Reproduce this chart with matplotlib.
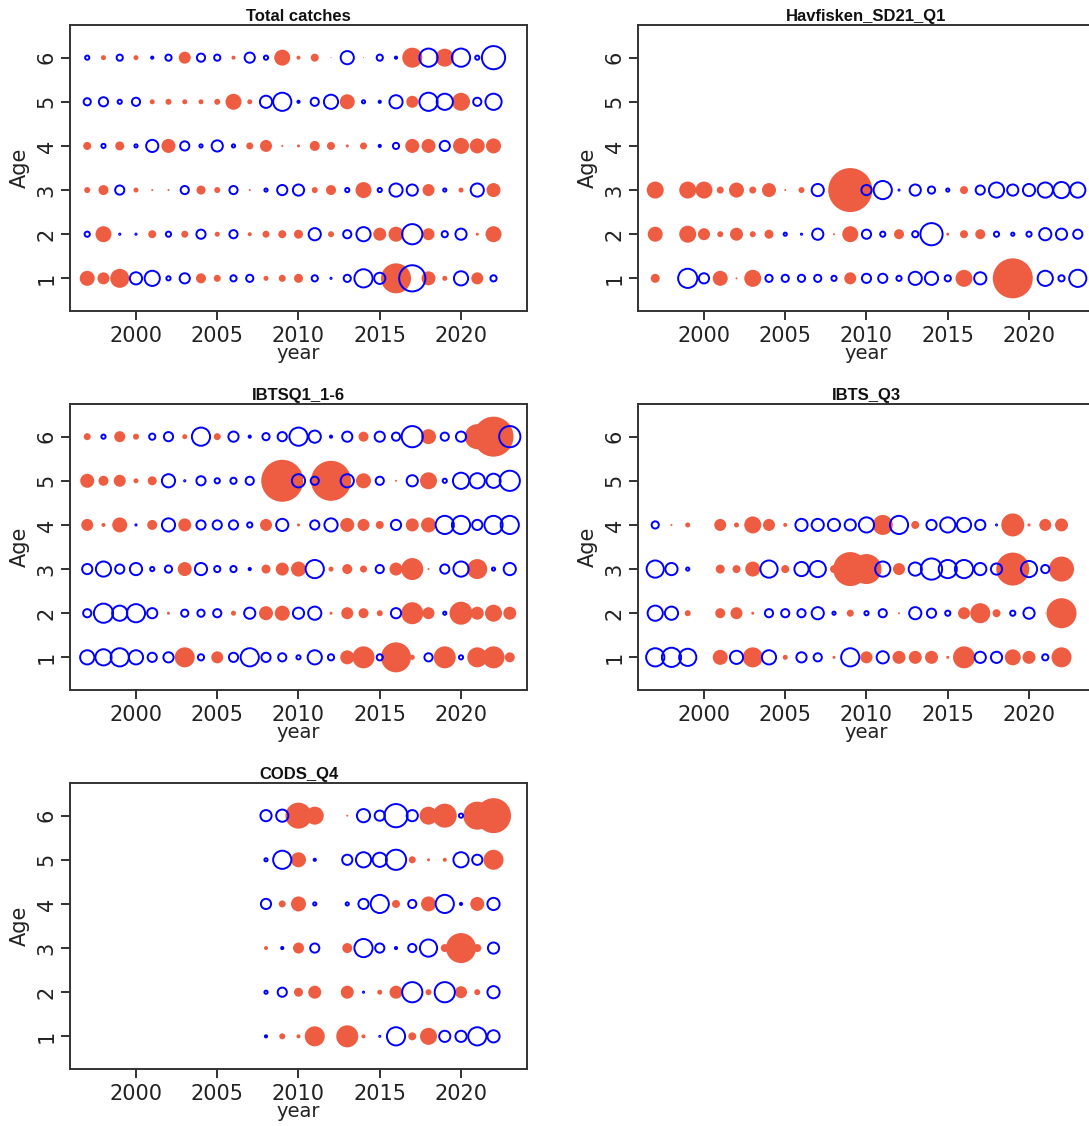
import numpy as np
import matplotlib
matplotlib.use("Agg")
import matplotlib.pyplot as plt
from matplotlib.transforms import offset_copy

nan = np.nan

# ---------------- data (signed residuals; + = red filled, - = blue open) -------------
ages = [1, 2, 3, 4, 5, 6]

years_total = list(range(1997, 2023))
total_a1 = [1.5, 1.2, 1.9, -1.4, -1.7, -0.6, -1.2, 1.0, 0.7, -0.8, -0.9, 0.5, 0.7, 0.9, -0.8, -0.3, -0.9, -2.0, -1.3, 3.0, -2.8, 1.4, 0.5, -1.6, 1.2, -0.8]
total_a2 = [-0.7, 1.6, -0.3, -0.3, 0.8, -0.7, 0.7, -1.1, 0.5, -1.0, 0.4, 0.7, 0.8, 0.9, -1.4, 0.6, -1.0, -1.6, 1.3, 1.5, -2.2, 1.2, -0.8, -1.3, 0.3, 1.6]
total_a3 = [0.6, 1.0, -1.1, 0.5, 0.2, 0.2, -1.0, 0.9, 0.6, -1.0, 0.2, -0.5, -1.2, -1.3, 0.6, 1.0, -0.6, 1.6, -0.6, -1.5, -1.3, 1.2, -0.5, 0.5, -1.5, 1.4]
total_a4 = [0.8, -0.6, 0.9, -0.5, -1.4, 1.4, -1.1, -0.5, -1.3, -0.5, 0.7, 1.2, 0.2, 0.3, 1.0, 0.8, 0.3, 0.7, -0.4, -0.8, 1.4, 1.4, -1.2, 1.6, 1.5, 1.5]
total_a5 = [-0.9, -1.1, -0.6, -1.0, 0.5, 0.6, 0.5, 0.5, 0.6, 1.6, 0.5, -1.4, -2.0, -0.4, -1.0, -1.6, 1.5, -0.5, -0.4, -1.5, 1.2, -2.0, -1.8, 1.8, -1.0, -1.8]
total_a6 = [-0.6, 0.5, -0.8, 0.5, -0.4, -0.8, 1.2, -1.0, -0.8, 0.4, -1.2, -0.6, 1.6, 0.4, 0.8, 0.1, -1.5, 0.1, -0.8, -0.4, 2.0, -2.0, 1.8, -2.0, -0.6, -2.5]

years_hav = list(range(1997, 2024))
hav_a1 = [0.9, nan, -2.1, -1.2, 1.5, 0.2, 1.7, -0.9, -0.9, -0.9, -0.9, -0.7, 1.2, -1.1, -1.1, -0.7, -1.5, -1.5, -0.8, 1.7, -1.4, nan, 4.0, nan, -1.7, -0.8, -1.9]
hav_a2 = [1.5, nan, 1.7, 1.2, 0.6, 1.3, 0.6, 0.9, -0.5, -0.3, -1.3, 0.2, 1.6, -1.1, -0.7, 1.0, -0.8, -2.4, 0.3, 0.8, 1.0, -0.7, -0.5, -0.7, -1.4, -1.3, -1.1]
hav_a3 = [1.7, nan, 1.7, 1.7, 0.7, 1.5, 0.7, 1.4, 0.2, 0.6, -1.4, 0.1, 4.4, -1.2, -2.0, -0.2, -1.3, -0.9, -0.5, 0.8, -1.1, -1.7, -1.3, -1.4, -1.7, -1.8, -1.7]

years_ibq1 = list(range(1997, 2024))
ibq1_a1 = [-1.6, -1.8, -2.0, -1.6, -1.1, -1.2, 2.0, -0.8, 1.2, -1.1, -2.0, -1.1, -1.0, -0.6, -1.6, -0.8, 1.4, 2.2, -0.8, 3.0, 0.5, -1.0, 2.2, -0.6, 2.0, 2.2, 1.0]
ibq1_a2 = [-1.0, -2.1, -1.7, -2.0, -1.2, 0.3, -0.9, -0.9, -1.0, 0.5, -1.3, 1.4, 1.5, -1.3, -1.5, 0.3, 1.2, 1.0, 0.6, -1.2, 2.2, 1.2, -0.5, 2.3, 1.3, 1.7, 1.3]
ibq1_a3 = [-1.2, -1.7, -1.1, -1.4, -0.6, -0.9, 1.4, -1.4, -0.8, -0.8, -0.4, 0.9, 1.3, 1.5, -2.0, 0.5, 1.0, 0.7, -1.0, 1.3, 2.2, 0.2, -1.1, -1.7, 2.0, -0.5, -1.4]
ibq1_a4 = [1.2, 0.4, 1.5, -0.3, 1.0, -1.5, 1.3, -1.1, -1.1, -1.1, -0.7, 1.2, -1.4, 0.3, -1.1, -1.5, 1.4, 1.2, 0.8, -1.2, 1.3, 1.5, -2.0, -2.0, -1.2, -2.0, -2.0]
ibq1_a5 = [1.4, 1.0, 1.2, 0.5, 0.9, -1.5, -0.3, -1.1, -0.7, -0.8, -1.0, 0.5, 4.2, -1.5, -1.0, 4.0, -1.5, 1.5, -1.0, 0.2, -1.3, 1.7, -0.6, -1.8, -1.7, -1.6, -2.2]
ibq1_a6 = [0.7, -0.6, 1.1, 0.6, -0.8, -1.1, 0.5, -2.0, 0.7, -1.2, -0.4, -0.9, -1.1, -2.0, -1.4, -0.4, -1.2, 1.0, -1.2, -1.0, -2.3, 1.5, -1.0, -1.2, 2.5, 4.0, -2.3]

years_ibq3 = list(range(1997, 2023))
ibq3_a1 = [-2.0, -2.1, -1.9, nan, 1.5, -1.5, 2.0, -1.6, 0.5, -1.2, -1.0, 0.3, -2.0, 1.2, -1.4, 1.3, 1.3, 1.3, 0.3, 2.2, -1.3, -1.3, 1.6, 1.3, -0.8, 2.0]
ibq3_a2 = [-1.7, -1.5, 0.6, nan, 1.0, 1.2, 0.3, -1.0, -1.0, -1.0, -1.4, -0.5, 0.7, -0.6, -1.0, 0.2, -1.4, -1.1, -0.7, 1.2, 2.0, 0.8, -0.7, -1.3, 0.1, 3.0]
ibq3_a3 = [-1.9, -1.4, -0.5, nan, 0.9, 0.8, 1.5, -1.9, 0.8, -1.6, -1.8, 0.8, 3.4, 3.0, -1.7, 1.2, -1.5, -2.3, -2.0, -2.0, -1.4, -1.3, 3.3, -1.8, -1.0, 2.5]
ibq3_a4 = [-0.9, 0.2, 0.5, nan, 1.2, 0.5, 1.7, 1.2, 0.4, -1.4, -1.4, -1.4, -1.3, -1.7, 2.0, -2.0, 0.8, -1.2, -1.7, -1.6, -1.2, -0.2, 2.3, 0.3, 1.2, 1.3]

years_cods = list(range(2008, 2023))
cods_a1 = [-0.4, 0.6, 0.4, 2.0, nan, 2.2, 0.4, -0.2, -2.0, 0.8, 1.7, -1.3, -1.3, -2.0, -1.4]
cods_a2 = [-0.5, -1.1, 0.9, 1.3, nan, 1.3, -0.3, 0.5, 1.3, -2.2, 0.6, -2.2, 1.2, 0.6, -1.4]
cods_a3 = [0.4, -0.4, 1.1, -1.1, nan, 1.0, -2.0, -1.1, -0.4, -1.0, -1.9, 0.8, 3.0, 0.8, -1.3]
cods_a4 = [-1.2, 0.7, 1.5, -0.5, nan, -0.5, -1.2, -2.0, 0.8, -1.0, 1.5, -2.0, -0.4, 1.4, -1.4]
cods_a5 = [-0.5, -2.0, 1.5, -0.4, nan, -1.2, -1.7, -1.6, -2.2, 0.7, 0.3, 0.4, -1.7, -1.2, 2.0]
cods_a6 = [-1.3, -1.4, 2.6, 1.8, nan, 0.2, -1.5, -1.2, -2.5, -1.3, 1.8, 2.4, -0.6, 2.8, 3.5]

titles = ["Total catches", "Havfisken_SD21_Q1", "IBTSQ1_1-6", "IBTS_Q3", "CODS_Q4"]
xticks = [2000, 2005, 2010, 2015, 2020]

# ---------------- styling ----------------
RED = "#EE5C42"
BLUE = "#0000FF"
W, H = 1089, 1126
PX = 72.0 / 100.0          # points per pixel
SCALE = 10.0 * PX          # marker diameter (pt) per residual unit
plt.rcParams["font.family"] = ["DejaVu Sans"]

fig = plt.figure(figsize=(W / 100, H / 100), dpi=100)


def add_ax(left, top, width=457, height=286):
    return fig.add_axes([left / W, 1 - (top + height) / H, width / W, height / H])


def bubble(ax, years, rows, row_ages, title):
    xs, ys, vs = [], [], []
    for age, row in zip(row_ages, rows):
        for yr, v in zip(years, row):
            if not np.isnan(v):
                xs.append(yr); ys.append(age); vs.append(v)
    xs = np.array(xs, float); ys = np.array(ys, float); vs = np.array(vs, float)
    order = np.argsort(xs, kind="stable")
    xs, ys, vs = xs[order], ys[order], vs[order]
    pos = vs > 0
    neg = ~pos
    ax.scatter(xs[pos], ys[pos], s=(SCALE * vs[pos]) ** 2, c=RED,
               edgecolors="none", zorder=2)
    d = np.maximum(SCALE * np.abs(vs[neg]) - 1.3, 0.8)
    ax.scatter(xs[neg], ys[neg], s=d ** 2, facecolors="none",
               edgecolors=BLUE, linewidths=1.4, zorder=3)

    ax.set_xlim(1995.94, 2024.06)
    ax.set_ylim(0.26, 6.74)
    ax.set_xticks(xticks)
    ax.set_yticks(ages)
    ax.tick_params(axis="both", direction="out", length=6.5, width=1.3,
                   colors="#222222", labelsize=15)
    ax.tick_params(axis="x", pad=4)
    ax.tick_params(axis="y", pad=3)
    for lab in ax.get_yticklabels():
        lab.set_rotation(90)
        lab.set_va("center")
    for sp in ax.spines.values():
        sp.set_color("#333333")
        sp.set_linewidth(1.4)
    ax.set_title(title, fontsize=12, fontweight="bold", family="Liberation Sans",
                 pad=3, color="#111111")
    tr = offset_copy(ax.transAxes, fig=fig, x=0, y=-48 * PX, units="points")
    ax.text(0.5, 0, "year", transform=tr, ha="center", va="baseline",
            fontsize=14, color="#222222")
    tr2 = offset_copy(ax.transAxes, fig=fig, x=-50 * PX, y=0, units="points")
    ax.text(0, 0.5, "Age", transform=tr2, ha="center", va="center",
            rotation=90, fontsize=15, color="#222222")


ax1 = add_ax(70, 25)
bubble(ax1, years_total, [total_a1, total_a2, total_a3, total_a4, total_a5, total_a6], ages, titles[0])
ax2 = add_ax(638, 25)
bubble(ax2, years_hav, [hav_a1, hav_a2, hav_a3], ages[:3], titles[1])
ax3 = add_ax(70, 404)
bubble(ax3, years_ibq1, [ibq1_a1, ibq1_a2, ibq1_a3, ibq1_a4, ibq1_a5, ibq1_a6], ages, titles[2])
ax4 = add_ax(638, 404)
bubble(ax4, years_ibq3, [ibq3_a1, ibq3_a2, ibq3_a3, ibq3_a4], ages[:4], titles[3])
ax5 = add_ax(70, 783)
bubble(ax5, years_cods, [cods_a1, cods_a2, cods_a3, cods_a4, cods_a5, cods_a6], ages, titles[4])

fig.savefig("out.png", dpi=100)
